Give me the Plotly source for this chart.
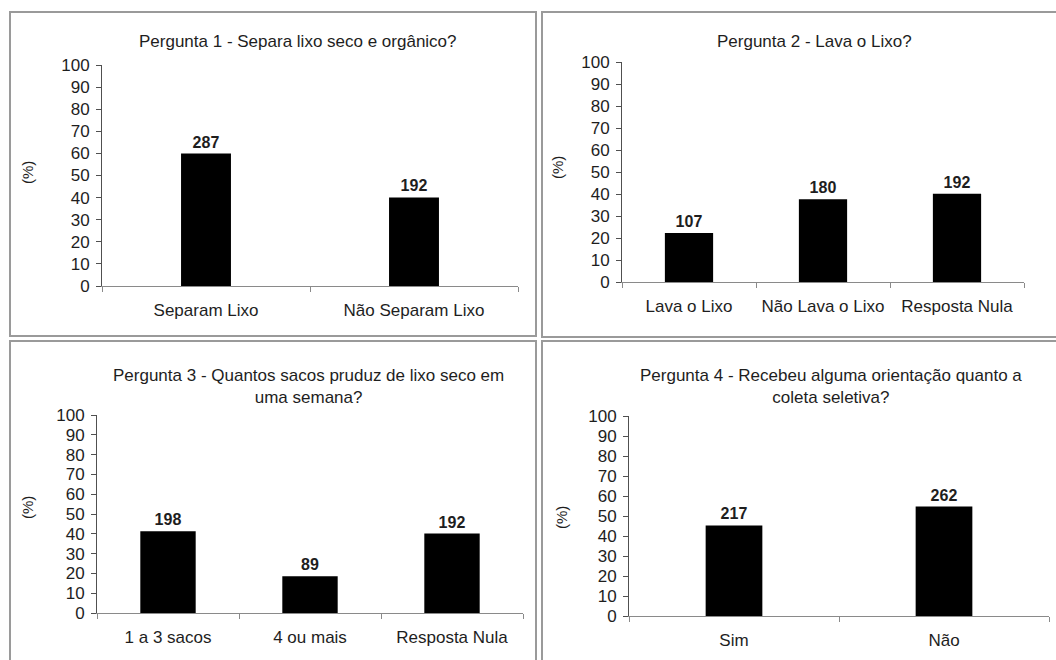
import plotly.graph_objects as go

W, H = 1056, 660

# ---- data ----
titles = [
    "Pergunta 1 - Separa lixo seco e orgânico?",
    "Pergunta 2 - Lava o Lixo?",
    "Pergunta 3 - Quantos sacos pruduz de lixo seco em<br>uma semana?",
    "Pergunta 4 - Recebeu alguma orientação quanto a<br>coleta seletiva?",
]
cats1 = ["Separam Lixo", "Não Separam Lixo"]
pct1 = [59.9, 40.1]
cnt1 = [287, 192]

cats2 = ["Lava o Lixo", "Não Lava o Lixo", "Resposta Nula"]
pct2 = [22.3, 37.6, 40.1]
cnt2 = [107, 180, 192]

cats3 = ["1 a 3 sacos", "4 ou mais", "Resposta Nula"]
pct3 = [41.3, 18.6, 40.1]
cnt3 = [198, 89, 192]

cats4 = ["Sim", "Não"]
pct4 = [45.3, 54.7]
cnt4 = [217, 262]

yticks = [0, 10, 20, 30, 40, 50, 60, 70, 80, 90, 100]

# ---- layout geometry (pixels) ----
panels = [
    dict(cats=cats1, pct=pct1, cnt=cnt1, x0=102, x1=518, y0=286, y100=65, bw=0.24,
         tx=298, ty=42, lx=27, ly=173, box=(10, 12, 536, 336)),
    dict(cats=cats2, pct=pct2, cnt=cnt2, x0=622, x1=1024, y0=282, y100=62, bw=0.36,
         tx=814, ty=42, lx=558, ly=168, box=(542, 12, 1062, 337)),
    dict(cats=cats3, pct=pct3, cnt=cnt3, x0=97, x1=523, y0=613, y100=415, bw=0.39,
         tx=308, ty=386, lx=27, ly=508, box=(10, 341, 536, 672)),
    dict(cats=cats4, pct=pct4, cnt=cnt4, x0=629, x1=1049, y0=616, y100=416, bw=0.27,
         tx=831, ty=386, lx=561, ly=518, box=(542, 341, 1062, 672)),
]

FONT = "Arial, Liberation Sans, sans-serif"
TXT = "#1e1e1e"
XAX = "#8a8a8a"
YAX = "#505050"

fig = go.Figure()
layout = dict(
    width=W, height=H,
    margin=dict(l=0, r=0, t=0, b=0, pad=0, autoexpand=False),
    paper_bgcolor="white", plot_bgcolor="white",
    showlegend=False,
    font=dict(family=FONT, size=17, color=TXT),
    shapes=[], annotations=[],
)

for i, p in enumerate(panels, start=1):
    xa = "x" if i == 1 else f"x{i}"
    ya = "y" if i == 1 else f"y{i}"
    fig.add_trace(go.Bar(
        x=p["cats"], y=p["pct"], xaxis=xa, yaxis=ya,
        width=p["bw"], marker=dict(color="black", line=dict(width=0)),
        text=[str(c) for c in p["cnt"]], textposition="outside",
        textfont=dict(family=FONT, size=16, color=TXT, weight="bold"),
        cliponaxis=False, hoverinfo="skip",
    ))
    xkey = "xaxis" if i == 1 else f"xaxis{i}"
    ykey = "yaxis" if i == 1 else f"yaxis{i}"
    layout[xkey] = dict(
        domain=[p["x0"] / W, p["x1"] / W], anchor=ya, automargin=False,
        type="category", showline=True, linecolor=XAX, linewidth=1,
        ticks="outside", tickson="boundaries", ticklen=5, tickcolor=XAX,
        showgrid=False, zeroline=False, ticklabelstandoff=9,
        tickfont=dict(family=FONT, size=17, color=TXT), fixedrange=True,
    )
    layout[ykey] = dict(
        domain=[1 - p["y0"] / H, 1 - p["y100"] / H], anchor=xa, automargin=False,
        range=[0, 100], tickvals=yticks, showline=True, linecolor=YAX, linewidth=1,
        ticks="outside", ticklen=5, tickcolor=YAX, showgrid=False, zeroline=False,
        ticklabelstandoff=3,
        tickfont=dict(family=FONT, size=17, color=TXT), fixedrange=True,
    )
    layout["annotations"].append(dict(
        text=titles[i - 1], xref="paper", yref="paper",
        x=p["tx"] / W, y=1 - p["ty"] / H, xanchor="center", yanchor="middle",
        showarrow=False, font=dict(family=FONT, size=17, color=TXT),
    ))
    layout["annotations"].append(dict(
        text="(%)", xref="paper", yref="paper", textangle=-90,
        x=p["lx"] / W, y=1 - p["ly"] / H, xanchor="center", yanchor="middle",
        showarrow=False, font=dict(family=FONT, size=15, color=TXT),
    ))
    bx0, by0, bx1, by1 = p["box"]
    layout["shapes"].append(dict(
        type="rect", xref="paper", yref="paper",
        x0=bx0 / W, x1=bx1 / W, y0=1 - by1 / H, y1=1 - by0 / H,
        line=dict(color="#9a9a9a", width=2), fillcolor="rgba(0,0,0,0)", layer="below",
    ))

fig.update_layout(**layout)
fig.write_html("out.html")
